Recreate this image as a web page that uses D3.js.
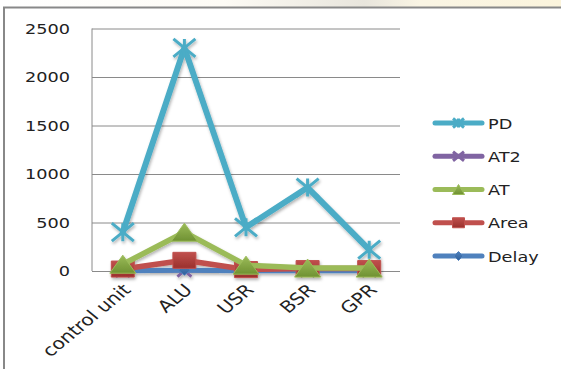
<!DOCTYPE html>
<html>
<head>
<meta charset="utf-8">
<script src="https://cdn.jsdelivr.net/npm/d3@7"></script>
<style>
  html, body { margin: 0; padding: 0; background: #fff; }
  svg { display: block; }
  text { font-family: "DejaVu Sans", Verdana, sans-serif; fill: #222; }
</style>
</head>
<body>
<svg id="chart" width="561" height="369"></svg>
<script>
// Units of the processor
const categories = ["control unit", "ALU", "USR", "BSR", "GPR"];

// Series values per unit
const pdValues    = [400, 2300, 450, 860, 220];
const at2Values   = [2, 5, 2, 2, 2];
const atValues    = [70, 400, 60, 30, 30];
const areaValues  = [20, 110, 15, 25, 25];
const delayValues = [3, 8, 3, 3, 3];

const yTicks = [0, 500, 1000, 1500, 2000, 2500];
const seriesNames = ["PD", "AT2", "AT", "Area", "Delay"];

const series = [
  { name: "PD",    values: pdValues,    color: "#4BACC6", dark: "#2f8ea8", marker: "star",     width: 6 },
  { name: "AT2",   values: at2Values,   color: "#8064A2", dark: "#5e4680", marker: "x",        width: 4 },
  { name: "AT",    values: atValues,    color: "#9BBB59", dark: "#6f9132", marker: "triangle", width: 5.5 },
  { name: "Area",  values: areaValues,  color: "#C0504D", dark: "#9a302d", marker: "square",   width: 5.5 },
  { name: "Delay", values: delayValues, color: "#4F81BD", dark: "#2f5f99", marker: "diamond",  width: 5 }
];

const svg = d3.select("#chart");
const defs = svg.append("defs");

// top strip behind the chart frame
const bg = defs.append("linearGradient").attr("id", "topBg").attr("x1", 0).attr("x2", 1).attr("y1", 0).attr("y2", 0);
bg.append("stop").attr("offset", "0%").attr("stop-color", "#ffffff");
bg.append("stop").attr("offset", "40%").attr("stop-color", "#fdfbf5");
bg.append("stop").attr("offset", "65%").attr("stop-color", "#e8e5dc");
bg.append("stop").attr("offset", "75%").attr("stop-color", "#faf5e4");
bg.append("stop").attr("offset", "100%").attr("stop-color", "#fbf4dc");
svg.append("rect").attr("x", 0).attr("y", 0).attr("width", 561).attr("height", 8).attr("fill", "url(#topBg)");

const shadow = defs.append("filter").attr("id", "shadow").attr("x", "-30%").attr("y", "-30%").attr("width", "160%").attr("height", "160%");
shadow.append("feDropShadow").attr("dx", 1).attr("dy", 2).attr("stdDeviation", 1.5).attr("flood-color", "#000").attr("flood-opacity", 0.3);

series.forEach(s => {
  const g = defs.append("linearGradient").attr("id", "grad-" + s.name).attr("x1", 0).attr("x2", 0).attr("y1", 0).attr("y2", 1);
  g.append("stop").attr("offset", "0%").attr("stop-color", s.color);
  g.append("stop").attr("offset", "100%").attr("stop-color", s.dark);
});

// chart frame
svg.append("rect").attr("x", 4).attr("y", 7.5).attr("width", 620).attr("height", 420)
  .attr("fill", "#fff").attr("stroke", "#888").attr("stroke-width", 2);

const plot = { left: 92, right: 400, top: 28.5, bottom: 271 };

const x = d3.scalePoint().domain(categories).range([plot.left, plot.right]).padding(0.5);
const y = d3.scaleLinear().domain([0, 2500]).range([plot.bottom, plot.top]);

const STRETCH = 1.22;

// gridlines
svg.append("g")
  .attr("transform", `translate(${plot.left},0)`)
  .call(d3.axisLeft(y).tickValues(yTicks).tickSize(-(plot.right - plot.left)).tickFormat(""))
  .call(g => g.select(".domain").remove())
  .call(g => g.selectAll("line").attr("stroke", "#8a8a8a").attr("stroke-width", 1));

// y axis line
svg.append("line").attr("x1", plot.left).attr("x2", plot.left).attr("y1", plot.top).attr("y2", plot.bottom)
  .attr("stroke", "#8a8a8a").attr("stroke-width", 1);

// y tick labels
svg.append("g").selectAll("text").data(yTicks).join("text")
  .attr("transform", d => `translate(70,${y(d) + 5}) scale(${STRETCH},1)`)
  .attr("text-anchor", "end")
  .attr("font-size", 14.5)
  .text(d => d);

// x category labels, slanted
svg.append("g").selectAll("text").data(categories).join("text")
  .attr("transform", d => `translate(${x(d) + 9},${plot.bottom + 20}) scale(1.22,1) rotate(-45)`)
  .attr("text-anchor", "end")
  .attr("font-size", 16.5)
  .text(d => d);

function markerPath(type, size) {
  const p = d3.path();
  const w = size.w / 2, h = size.h / 2;
  if (type === "star") {
    p.moveTo(-w, -h); p.lineTo(w, h);
    p.moveTo(-w, h); p.lineTo(w, -h);
    p.moveTo(0, -h); p.lineTo(0, h);
  } else if (type === "x") {
    p.moveTo(-w, -h); p.lineTo(w, h);
    p.moveTo(-w, h); p.lineTo(w, -h);
  } else if (type === "triangle") {
    p.moveTo(0, -h); p.lineTo(w, h); p.lineTo(-w, h); p.closePath();
  } else if (type === "square") {
    p.rect(-w, -h, 2 * w, 2 * h);
  } else if (type === "diamond") {
    p.moveTo(0, -h); p.lineTo(w, 0); p.lineTo(0, h); p.lineTo(-w, 0); p.closePath();
  }
  return p.toString();
}

const plotMarkerSize = {
  star: { w: 22, h: 18 }, x: { w: 14, h: 12 }, triangle: { w: 26, h: 18 },
  square: { w: 23, h: 16 }, diamond: { w: 12, h: 10 }
};
const legendMarkerSize = {
  star: { w: 11, h: 9 }, x: { w: 11, h: 9 }, triangle: { w: 12, h: 10 },
  square: { w: 12, h: 10 }, diamond: { w: 9, h: 9 }
};

function drawMarker(g, s, size) {
  const open = s.marker === "star" || s.marker === "x";
  g.append("path")
    .attr("d", markerPath(s.marker, size))
    .attr("fill", open ? "none" : `url(#grad-${s.name})`)
    .attr("stroke", s.color)
    .attr("stroke-width", open ? 3 : 1)
    .attr("stroke-linejoin", "miter");
}

const line = d3.line().x((d, i) => x(categories[i])).y(d => y(d));

// stacking: AT2 at the bottom, PD on top
const drawOrder = ["AT2", "Delay", "Area", "AT", "PD"].map(n => series.find(s => s.name === n));
const seriesG = svg.append("g").attr("filter", "url(#shadow)");
drawOrder.forEach(s => {
  const g = seriesG.append("g");
  g.append("path")
    .datum(s.values)
    .attr("d", line)
    .attr("fill", "none")
    .attr("stroke", s.color)
    .attr("stroke-width", s.width)
    .attr("stroke-linejoin", "round")
    .attr("stroke-linecap", "round");
  s.values.forEach((v, i) => {
    const mg = g.append("g").attr("transform", `translate(${x(categories[i])},${y(v)})`);
    drawMarker(mg, s, plotMarkerSize[s.marker]);
  });
});

// legend
const legend = svg.append("g");
const legendY = d3.scalePoint().domain(seriesNames).range([123, 256]);
series.forEach(s => {
  const ly = legendY(s.name);
  const g = legend.append("g");
  g.append("line").attr("x1", 435).attr("x2", 482).attr("y1", ly).attr("y2", ly)
    .attr("stroke", s.color).attr("stroke-width", 5).attr("stroke-linecap", "round");
  const mg = g.append("g").attr("transform", `translate(458.5,${ly})`);
  drawMarker(mg, s, legendMarkerSize[s.marker]);
  g.append("text")
    .attr("transform", `translate(488,${ly + 5.5}) scale(${STRETCH},1)`)
    .attr("font-size", 14.5)
    .text(s.name);
});
</script>
</body>
</html>
